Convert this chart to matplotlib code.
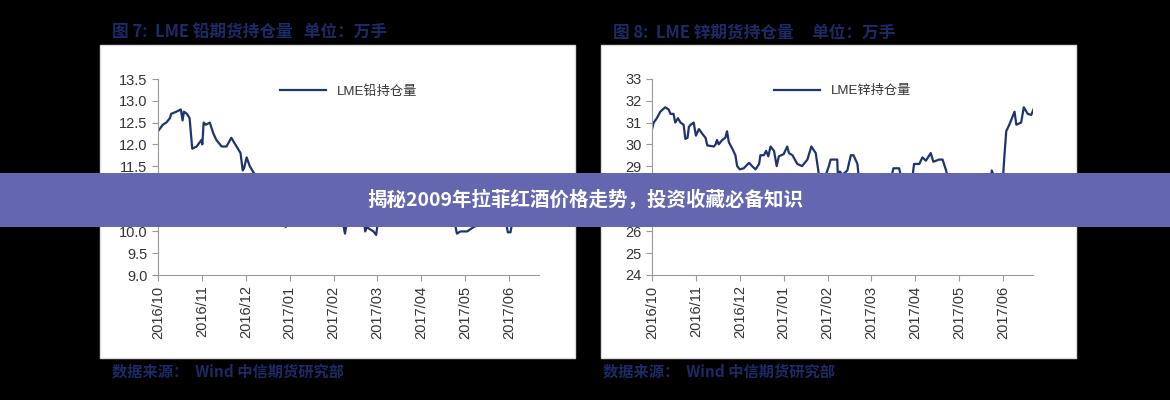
import matplotlib
matplotlib.use("Agg")
import matplotlib.pyplot as plt
from matplotlib.patches import Rectangle

plt.rcParams["font.family"] = ["Liberation Sans", "Noto Sans CJK SC", "DejaVu Sans"]

month_labels = ["2016/10", "2016/11", "2016/12", "2017/01", "2017/02", "2017/03", "2017/04", "2017/05", "2017/06"]

lead_x = [0, .11, .19, .27, .30, .42, .52, .56, .59, .66, .72, .78, .88, .99, 1.01, 1.04, 1.09, 1.18, 1.26, 1.33,
          1.45, 1.56, 1.67, 1.79, 1.88, 1.93, 1.96, 2.02, 2.09, 2.21, 2.25, 2.36, 2.47, 2.59, 2.63, 2.70, 2.82, 2.87,
          2.91, 2.97, 3.04, 3.10, 3.16, 3.31, 3.61, 4.0, 4.19, 4.26, 4.30, 4.41, 4.49, 4.60, 4.68, 4.72, 4.76, 4.83,
          4.91, 4.97, 5.02, 5.14, 5.29, 5.44, 5.63, 5.71, 5.90, 6.01, 6.16, 6.35, 6.47, 6.58, 6.70, 6.81, 6.89, 7.04,
          7.19, 7.31, 7.38, 7.53, 7.69, 7.80, 7.91, 7.97, 8.03, 8.07, 8.14, 8.22, 8.37, 8.56, 8.68]
lead_y = [12.3, 12.45, 12.5, 12.6, 12.7, 12.75, 12.8, 12.55, 12.75, 12.7, 12.6, 11.9, 11.95, 12.1, 12.0, 12.5, 12.45, 12.5, 12.25, 12.1,
          11.95, 11.95, 12.15, 11.95, 11.8, 11.4, 11.45, 11.7, 11.5, 11.3, 11.05, 10.95, 10.9, 10.8, 10.9, 11.1, 11.1, 10.3,
          10.1, 10.3, 10.35, 10.3, 10.4, 10.5, 10.6, 10.5, 10.3, 9.95, 10.2, 10.2, 10.4, 10.5, 10.4, 10.0, 10.1, 10.05,
          10.0, 9.92, 10.3, 10.45, 10.5, 10.8, 11.2, 10.9, 10.7, 10.45, 10.2, 10.15, 10.4, 10.9, 10.5, 9.95, 10.0, 10.0,
          10.1, 10.15, 10.3, 10.3, 10.4, 10.45, 10.3, 9.98, 9.98, 10.2, 10.3, 10.5, 10.6, 10.5, 10.4]

zinc_x = [0, .04, .11, .19, .30, .38, .42, .49, .53, .59, .65, .72, .76, .81, .84, .88, .95, 1.0, 1.07, 1.14, 1.22, 1.26,
          1.41, 1.45, 1.48, 1.52, 1.60, 1.67, 1.71, 1.75, 1.83, 1.90, 1.94, 2.0, 2.09, 2.21, 2.28, 2.36, 2.44, 2.47, 2.55,
          2.60, 2.65, 2.70, 2.78, 2.84, 2.89, 3.0, 3.08, 3.12, 3.20, 3.31, 3.42, 3.54, 3.63, 3.73, 3.81, 3.88, 3.96, 4.03,
          4.07, 4.22, 4.24, 4.28, 4.34, 4.45, 4.53, 4.59, 4.68, 4.72, 4.79, 4.91, 5.02, 5.14, 5.25, 5.33, 5.44, 5.50, 5.63,
          5.71, 5.82, 5.94, 5.97, 6.09, 6.16, 6.24, 6.35, 6.41, 6.54, 6.62, 6.70, 6.77, 6.85, 6.89, 6.96, 7.08, 7.15, 7.23,
          7.31, 7.38, 7.50, 7.57, 7.69, 7.74, 7.80, 7.91, 7.98, 8.03, 8.07, 8.14, 8.26, 8.30, 8.41, 8.47, 8.56, 8.64, 8.69]
zinc_y = [30.7, 31.0, 31.2, 31.5, 31.7, 31.6, 31.4, 31.4, 31.0, 31.2, 31.0, 30.9, 30.25, 30.3, 30.8, 30.9, 31.0, 30.4, 30.7, 30.5, 30.3, 29.95,
          29.9, 30.0, 30.2, 30.0, 30.2, 30.3, 30.6, 30.1, 29.8, 29.5, 29.0, 28.85, 28.9, 29.15, 29.0, 28.85, 29.1, 29.5, 29.5,
          29.7, 29.45, 29.9, 29.7, 29.0, 29.45, 29.55, 29.9, 29.6, 29.5, 29.1, 29.0, 29.3, 29.9, 29.6, 28.5, 28.5, 28.6, 29.0,
          29.3, 29.3, 28.2, 28.75, 28.6, 28.8, 29.5, 29.5, 29.1, 28.3, 28.5, 28.5, 28.6, 28.5, 28.5, 28.4, 28.4, 28.9, 28.9,
          28.2, 28.4, 28.6, 29.1, 29.1, 29.4, 29.25, 29.6, 29.2, 29.3, 29.3, 28.8, 28.2, 27.0, 26.8, 26.8, 27.2, 28.0, 27.9,
          27.8, 27.8, 28.05, 27.8, 27.9, 28.8, 28.5, 28.3, 28.0, 29.5, 30.6, 30.9, 31.5, 30.9, 31.0, 31.7, 31.4, 31.35, 31.6]

lead_ticks = [9.0, 9.5, 10.0, 10.5, 11.0, 11.5, 12.0, 12.5, 13.0, 13.5]
zinc_ticks = [24, 25, 26, 27, 28, 29, 30, 31, 32, 33]

W, H = 1170, 400
fig = plt.figure(figsize=(11.7, 4), dpi=100, facecolor="black")

navy = "#1f3370"
title_c = "#1c2a66"
for px in (100, 601):
    fig.patches.append(Rectangle((px / W, 1 - 358 / H), 475 / W, 313 / H, transform=fig.transFigure,
                                 facecolor="white", edgecolor="#dddddd", zorder=-5))

def panel(left, xs, ys, ticks, fmt, legend):
    ax = fig.add_axes([left / W, 1 - 275 / H, 381 / W, 196 / H])
    ax.set_zorder(1)
    ax.set_facecolor("white")
    ax.plot(xs, ys, color=navy, lw=1.6, label=legend)
    ax.set_xlim(0, 8.68)
    ax.set_ylim(ticks[0], ticks[-1])
    ax.set_yticks(ticks)
    ax.set_yticklabels([fmt.format(t) for t in ticks])
    ax.set_xticks(range(len(month_labels)))
    ax.set_xticklabels(month_labels, rotation=90)
    for s in ("top", "right"):
        ax.spines[s].set_visible(False)
    for s in ("left", "bottom"):
        ax.spines[s].set_color("#999999")
    ax.tick_params(colors="#999999", labelcolor="#333333", labelsize=10.5, length=4, direction="out")
    leg = ax.legend(loc="upper center", frameon=False, fontsize=9.5, handlelength=3.5, bbox_to_anchor=(0.5, 1.03))
    for t in leg.get_texts():
        t.set_color("#333333")
    return ax

panel(158, lead_x, lead_y, lead_ticks, "{:.1f}", "LME铅持仓量")
panel(652, zinc_x, zinc_y, zinc_ticks, "{:.0f}", "LME锌持仓量")

cjk = "Noto Sans CJK SC"
fig.text(112 / W, 1 - 32 / H, "图 7:  LME 铅期货持仓量   单位：万手", color=title_c, fontsize=12, va="center",
         fontweight="bold", fontfamily=cjk)
fig.text(613 / W, 1 - 32 / H, "图 8:  LME 锌期货持仓量     单位：万手", color=title_c, fontsize=12, va="center",
         fontweight="bold", fontfamily=cjk)
fig.text(112 / W, 1 - 372 / H, "数据来源：  Wind 中信期货研究部", color=title_c, fontsize=11, va="center",
         fontweight="bold", fontfamily=cjk)
fig.text(603 / W, 1 - 372 / H, "数据来源：  Wind 中信期货研究部", color=title_c, fontsize=11, va="center",
         fontweight="bold", fontfamily=cjk)

banner = Rectangle((0, 1 - 227 / H), 1, 54 / H, transform=fig.transFigure,
                   facecolor="#6466b0", edgecolor="none")
banner.set_zorder(10)
fig.add_artist(banner)
t = fig.text(585 / W, 1 - 200 / H, "揭秘2009年拉菲红酒价格走势，投资收藏必备知识", color="white", fontsize=14,
             fontweight="bold", ha="center", va="center", fontfamily=cjk)
t.set_zorder(11)

fig.savefig("out.png", dpi=100, facecolor="black")
